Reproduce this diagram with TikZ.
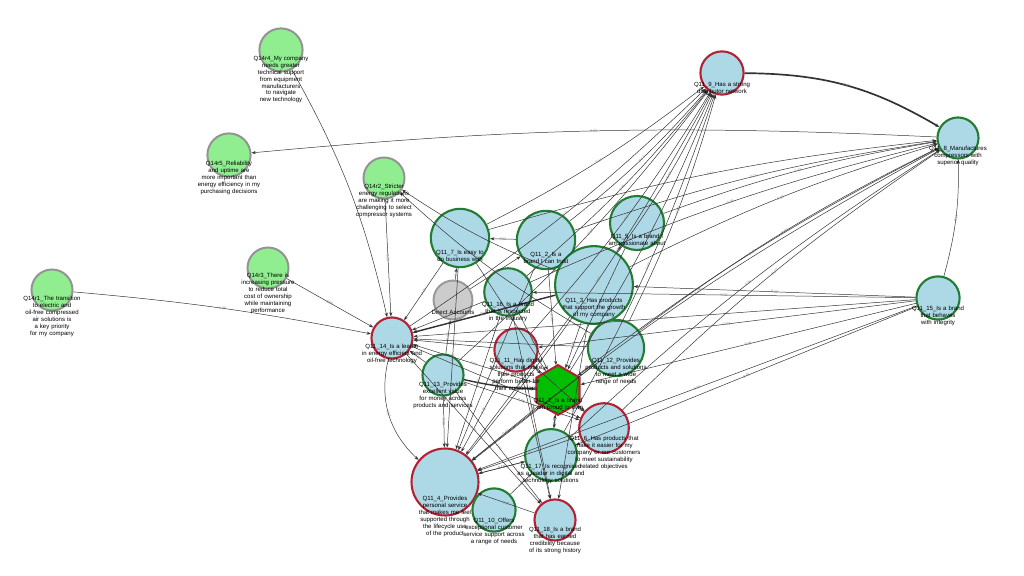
\documentclass[tikz,border=0pt]{standalone}
\usepackage{fontspec}
\setmainfont{Liberation Sans}
\usetikzlibrary{arrows.meta,shapes.geometric}
\definecolor{lblue}{RGB}{173,216,230}
\definecolor{lgreen}{RGB}{144,238,144}
\definecolor{dgreen}{RGB}{34,125,50}
\definecolor{dred}{RGB}{178,34,52}
\hyphenpenalty=10000
\exhyphenpenalty=10000
\tikzset{
  q14/.style={circle, draw=gray!85, line width=1.4pt, fill=lgreen, minimum size=#1*0.027cm, inner sep=0pt},
  qg/.style={circle, draw=dgreen, line width=1.5pt, fill=lblue, minimum size=#1*0.027cm, inner sep=0pt},
  qr/.style={circle, draw=dred, line width=1.5pt, fill=lblue, minimum size=#1*0.027cm, inner sep=0pt},
  lbl/.style={font=\fontsize{4.3}{4.9}\selectfont, align=center, text width=#1, inner sep=0pt},
  edge/.style={-{Stealth[length=3pt]}, draw=black!80, line width=0.35pt},
  wt/.style={font=\fontsize{2.5}{3}\selectfont, text=gray, midway, sloped, inner sep=0.5pt}
}
\begin{document}
\begin{tikzpicture}[x=0.025cm, y=-0.025cm]
\useasboundingbox (0,0) rectangle (1024,576);
% nodes
\node[q14=40] (r4) at (281,50) {};
\node[q14=40] (r5) at (229,155) {};
\node[q14=38] (r2) at (384,178) {};
\node[q14=38] (r3) at (268,268) {};
\node[q14=38] (r1) at (52,290) {};
\node[qr=40] (q9) at (722,73) {};
\node[qg=38] (q8) at (958,138) {};
\node[qg=40] (q15) at (938,298) {};
\node[qg=54] (q7) at (460,238) {};
\node[qg=54] (q2) at (546,240) {};
\node[qg=50] (q5) at (637,223) {};
\node[circle, draw=gray!80, line width=1.4pt, fill=gray!40, minimum size=36*0.027cm] (da) at (453,300) {};
\node[qg=44] (q16) at (508,292) {};
\node[qg=72] (q3) at (594,285) {};
\node[qr=38] (q14) at (392,338) {};
\node[qr=40] (q11) at (516,350) {};
\node[qg=52] (q12) at (616,348) {};
\node[qg=38] (q13) at (443,375) {};
\node[regular polygon, regular polygon sides=6, shape border rotate=30, draw=dred, line width=1.5pt, fill=green!75!black, minimum size=46*0.027cm, inner sep=0pt] (q1) at (558,390) {};
\node[qr=46] (q6) at (604,428) {};
\node[qg=48] (q17) at (551,455) {};
\node[qr=62] (q4) at (445,482) {};
\node[qg=40] (q10) at (494,510) {};
\node[qr=38] (q18) at (555,520) {};
% edges
\draw[edge, line width=1.2pt] (q9) to[bend left=15] node[wt] {0.36} (q8);
\draw[edge] (r4) to[bend left=8] (q14);
\draw[edge] (r2) to node[wt] {0.29} (q14);
\draw[edge] (r3) to node[wt] {0.05} (q14);
\draw[edge] (r1) to[bend left=3] node[wt] {0.05} (q14);
\draw[edge] (q8) to[bend right=4] node[wt] {0.03} (r5);
\draw[edge] (q3) to[bend left=6] (r2);
\draw[edge] (q12) to[bend left=6] (r2);
\foreach \s/\w in {q14/0.12, q7/0.14, q2/0.13, q3/0.16, q16/0.11, q12/0.10, q11/0.07, q1/0.09, q17/0.07, q4/0.06, q13/0.05}
  \draw[edge] (\s) to[bend right=5] node[wt] {\w} (q9);
\foreach \s/\w in {q7/0.12, q2/0.13, q5/0.18, q3/0.16, q12/0.12, q1/0.14, q6/0.10, q17/0.06, q4/0.10, q16/0.08}
  \draw[edge] (\s) to[bend left=5] node[wt] {\w} (q8);
\draw[edge] (q15) to[bend right=8] node[wt] {0.13} (q8);
\foreach \s/\w in {q13/0.07, q11/0.11, q3/0.09, q12/0.18, q1/0.15, q16/0.07, q7/0.07, q15/0.05}
  \draw[edge] (\s) to node[wt] {\w} (q14);
\draw[edge, line width=1pt] (q3) to node[wt] {0.21} (q14);
\foreach \s/\w in {q16/0.07, q3/0.15, q12/0.09, q6/0.08, q17/0.07, q11/0.10, q2/0.08, q5/0.06, q15/0.06, q7/0.05}
  \draw[edge] (\s) to node[wt] {\w} (q1);
\draw[edge, line width=1pt] (q13) to[bend right=5] node[wt] {0.22} (q1);
\foreach \s/\w in {q13/0.08, q11/0.09, q16/0.07, q3/0.10, q1/0.12, q17/0.10, q7/0.06, q2/0.08, q6/0.07, q12/0.06, q18/0.05}
  \draw[edge] (\s) to node[wt] {\w} (q4);
\draw[edge] (q14) to[bend right=30] node[wt] {0.17} (q4);
\foreach \s/\w in {q14/0.08, q13/0.07, q11/0.06, q3/0.05, q16/0.05}
  \draw[edge] (\s) to node[wt] {\w} (q18);
\foreach \s/\w in {q14/0.07, q13/0.06, q11/0.07, q1/0.05}
  \draw[edge] (\s) to node[wt] {\w} (q6);
\foreach \s/\w in {q10/0.09, q4/0.10}
  \draw[edge] (\s) to node[wt] {\w} (q17);
\draw[edge] (q15) to node[wt] {0.09} (q3);
\draw[edge] (q15) to node[wt] {0.05} (q16);
\draw[edge] (q15) to node[wt] {0.03} (q11);
\draw[edge] (q15) to node[wt] {0.05} (q4);
\draw[edge] (q15) to node[wt] {0.06} (q17);
\draw[edge] (da) to node[wt] {0.1} (q7);
\draw[edge] (da) to node[wt] {0.05} (q2);
\draw[edge] (q13) to node[wt] {0.08} (da);
\draw[edge] (q2) to node[wt] {0.05} (q7);
\draw[edge] (q3) to node[wt] {0.07} (q5);
\draw[edge] (q1) to node[wt] {0.10} (q17);
% labels
\node[lbl=44pt, anchor=north] (t4) at (281,56) {Q14r4\_My company needs greater technical support from equipment manufacturers to navigate new technology};
\node[lbl=48pt, anchor=north] (t5) at (229,161) {Q14r5\_Reliability and uptime are more important than energy efficiency in my purchasing decisions};
\node[lbl=46pt, anchor=north] (t2) at (384,184) {Q14r2\_Stricter energy regulations are making it more challenging to select compressor systems};
\node[lbl=44pt, anchor=north] (t3) at (268,273) {Q14r3\_There is increasing pressure to reduce total cost of ownership while maintaining performance};
\node[lbl=44pt, anchor=north] (t1) at (52,296) {Q14r1\_The transition to electric and oil-free compressed air solutions is a key priority for my company};
\node[lbl=46pt, anchor=north] (t9) at (722,82) {Q11\_9\_Has a strong distributor network};
\node[lbl=46pt, anchor=north] (t8) at (958,146) {Q11\_8\_Manufactures compressors with superior quality};
\node[lbl=42pt, anchor=north] (t15) at (938,306) {Q11\_15\_Is a brand that behaves with integrity};
\node[lbl=46pt, anchor=north] (t7) at (460,250) {Q11\_7\_Is easy to do business with};
\node[lbl=42pt, anchor=north] (t2b) at (546,252) {Q11\_2\_Is a brand I can trust};
\node[lbl=48pt, anchor=north] (t5b) at (637,234) {Q11\_5\_Is a brand I am passionate about};
\node[lbl=46pt, anchor=north] (tda) at (453,310) {Direct Accounts};
\node[lbl=42pt, anchor=north] (t16) at (508,302) {Q11\_16\_Is a brand that is respected in the industry};
\node[lbl=48pt, anchor=north] (t3b) at (594,298) {Q11\_3\_Has products that support the growth of my company};
\node[lbl=48pt, anchor=north] (t14) at (392,344) {Q11\_14\_Is a leader in energy efficient and oil-free technology};
\node[lbl=44pt, anchor=north] (t11) at (516,358) {Q11\_11\_Has digital solutions that make their products perform better for their customers};
\node[lbl=46pt, anchor=north] (t12) at (616,358) {Q11\_12\_Provides products and solutions to meet a wide range of needs};
\node[lbl=50pt, anchor=north] (t13) at (443,382) {Q11\_13\_Provides excellent value for money across products and services};
\node[lbl=50pt, anchor=north] (t1b) at (558,398) {Q11\_1\_Is a brand I am proud to own};
\node[lbl=52pt, anchor=north] (t6) at (604,436) {Q11\_6\_Has products that make it easier for my company or our customers to meet sustainability related objectives};
\node[lbl=48pt, anchor=north] (t17) at (551,464) {Q11\_17\_Is recognised as a leader in digital and technology solutions};
\node[lbl=48pt, anchor=north] (t4b) at (445,496) {Q11\_4\_Provides personal service that makes me feel supported through the lifecycle use of the product};
\node[lbl=44pt, anchor=north] (t10) at (494,518) {Q11\_10\_Offers exceptional customer service support across a range of needs};
\node[lbl=42pt, anchor=north] (t18) at (555,527) {Q11\_18\_Is a brand that has earned credibility because of its strong history};
\end{tikzpicture}
\end{document}
